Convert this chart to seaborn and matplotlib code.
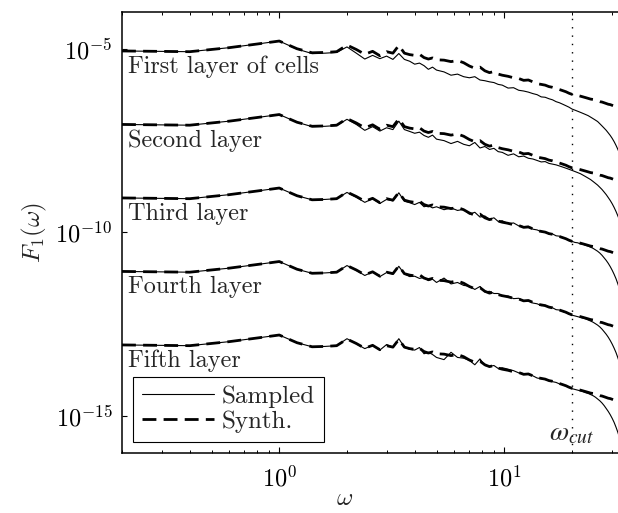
import numpy as np
import pandas as pd
import matplotlib
matplotlib.use("Agg")
import matplotlib.pyplot as plt
import seaborn as sns
from matplotlib.lines import Line2D
from matplotlib import ticker, transforms

# ---------------- data (log10 of F1, layer-1 scale) ----
omega = [0.2, 0.4, 0.6, 0.8, 1.0, 1.2, 1.4, 1.6, 1.8, 2.0,
         2.2, 2.4, 2.6, 2.8, 3.0, 3.2, 3.4, 3.6, 3.8, 4.0,
         4.2, 4.4, 4.6, 4.8, 5.0, 5.4, 5.8, 6.2, 6.6, 7.0,
         7.4, 7.8, 8.2, 8.6, 9.0, 9.4, 9.8, 10.4, 11.0, 11.6,
         12.2, 12.8, 13.4, 14.0, 14.6, 15.2, 15.8, 16.4, 17.0, 17.6,
         18.2, 18.8, 19.4, 20.0, 20.6, 21.2, 21.8, 22.4, 23.0, 23.6,
         24.2, 24.8, 25.4, 26.0, 26.6, 27.2, 27.8, 28.4, 29.0, 29.6,
         30.2, 30.8, 31.4, 32.0, 32.6, 33.2]

synth_log = [-5.06, -5.08, -4.97, -4.87, -4.79, -5.00, -5.11, -5.10, -5.08, -4.90,
             -5.02, -5.15, -5.07, -5.19, -5.08, -5.12, -4.91, -5.12, -5.16, -5.18,
             -5.15, -5.24, -5.28, -5.25, -5.30, -5.31, -5.35, -5.32, -5.38, -5.47,
             -5.53, -5.50, -5.60, -5.65, -5.62, -5.69, -5.72, -5.75, -5.79, -5.81,
             -5.86, -5.85, -5.90, -5.95, -5.97, -5.99, -6.03, -6.05, -6.08, -6.11,
             -6.14, -6.17, -6.21, -6.24, -6.25, -6.27, -6.29, -6.31, -6.33, -6.35,
             -6.37, -6.38, -6.40, -6.42, -6.44, -6.45, -6.47, -6.49, -6.51, -6.52,
             -6.54, -6.56, -6.57, -6.59, -6.60, -6.62]

sampled_layer1 = [-5.06, -5.08, -4.97, -4.87, -4.79, -5.01, -5.13, -5.12, -5.10, -4.95,
                  -5.12, -5.28, -5.18, -5.27, -5.20, -5.29, -5.13, -5.29, -5.34, -5.42,
                  -5.39, -5.46, -5.56, -5.50, -5.58, -5.63, -5.72, -5.69, -5.76, -5.79,
                  -5.76, -5.85, -5.87, -5.90, -5.92, -5.97, -5.99, -6.07, -6.06, -6.13,
                  -6.15, -6.18, -6.22, -6.25, -6.31, -6.32, -6.36, -6.39, -6.44, -6.47,
                  -6.51, -6.55, -6.59, -6.64, -6.67, -6.70, -6.73, -6.76, -6.79, -6.82,
                  -6.86, -6.90, -6.94, -6.98, -7.04, -7.10, -7.16, -7.22, -7.29, -7.36,
                  -7.44, -7.53, -7.63, -7.74, -7.86, -8.00]

sampled_layer2 = [-5.06, -5.08, -4.97, -4.87, -4.79, -5.00, -5.12, -5.11, -5.09, -4.92,
                  -5.06, -5.22, -5.12, -5.24, -5.15, -5.20, -4.97, -5.20, -5.25, -5.30,
                  -5.27, -5.36, -5.41, -5.35, -5.46, -5.50, -5.58, -5.52, -5.60, -5.64,
                  -5.55, -5.70, -5.66, -5.74, -5.71, -5.80, -5.82, -5.90, -5.86, -5.94,
                  -5.92, -5.98, -6.00, -6.04, -6.08, -6.07, -6.12, -6.14, -6.16, -6.19,
                  -6.22, -6.25, -6.28, -6.31, -6.34, -6.37, -6.40, -6.44, -6.48, -6.52,
                  -6.56, -6.61, -6.66, -6.71, -6.77, -6.83, -6.90, -6.97, -7.05, -7.13,
                  -7.22, -7.32, -7.43, -7.55, -7.68, -7.82]

sampled_layer3 = [-5.06, -5.08, -4.97, -4.87, -4.79, -5.00, -5.11, -5.10, -5.08, -4.91,
                  -5.04, -5.18, -5.08, -5.21, -5.10, -5.14, -4.92, -5.15, -5.19, -5.24,
                  -5.18, -5.30, -5.27, -5.33, -5.30, -5.38, -5.33, -5.40, -5.37, -5.50,
                  -5.45, -5.58, -5.55, -5.64, -5.60, -5.70, -5.68, -5.76, -5.74, -5.82,
                  -5.84, -5.83, -5.91, -5.93, -5.98, -5.98, -6.04, -6.04, -6.09, -6.10,
                  -6.15, -6.17, -6.22, -6.24, -6.27, -6.28, -6.31, -6.32, -6.35, -6.37,
                  -6.40, -6.43, -6.47, -6.51, -6.56, -6.62, -6.69, -6.76, -6.84, -6.93,
                  -7.03, -7.14, -7.26, -7.40, -7.55, -7.72]

sampled_layer4 = [-5.06, -5.08, -4.97, -4.87, -4.79, -5.00, -5.11, -5.10, -5.08, -4.90,
                  -5.03, -5.17, -5.07, -5.20, -5.09, -5.13, -4.92, -5.13, -5.20, -5.19,
                  -5.25, -5.22, -5.31, -5.27, -5.36, -5.24, -5.40, -5.36, -5.44, -5.46,
                  -5.55, -5.47, -5.62, -5.60, -5.66, -5.66, -5.74, -5.73, -5.80, -5.79,
                  -5.87, -5.86, -5.92, -5.94, -5.99, -5.98, -6.04, -6.05, -6.10, -6.11,
                  -6.15, -6.18, -6.22, -6.25, -6.27, -6.29, -6.31, -6.33, -6.35, -6.38,
                  -6.41, -6.44, -6.48, -6.52, -6.57, -6.63, -6.70, -6.77, -6.85, -6.94,
                  -7.04, -7.15, -7.27, -7.41, -7.56, -7.73]

sampled_layer5 = [-5.06, -5.08, -4.97, -4.87, -4.79, -5.00, -5.11, -5.10, -5.08, -4.89,
                  -5.03, -5.16, -5.07, -5.20, -5.05, -5.12, -4.89, -5.12, -5.18, -5.20,
                  -5.13, -5.30, -5.26, -5.32, -5.40, -5.46, -5.26, -5.40, -5.42, -5.48,
                  -5.60, -5.44, -5.62, -5.64, -5.62, -5.70, -5.68, -5.72, -5.76, -5.82,
                  -5.84, -5.86, -5.90, -5.96, -5.98, -6.00, -6.03, -6.06, -6.08, -6.12,
                  -6.14, -6.18, -6.21, -6.25, -6.27, -6.29, -6.31, -6.33, -6.36, -6.38,
                  -6.41, -6.44, -6.48, -6.53, -6.58, -6.64, -6.71, -6.79, -6.87, -6.96,
                  -7.06, -7.17, -7.30, -7.44, -7.60, -7.78]

layer_names = ["First layer of cells", "Second layer", "Third layer",
               "Fourth layer", "Fifth layer"]
layer_shift_decades = [0, -2, -4, -6, -8]
sampled_all = [sampled_layer1, sampled_layer2, sampled_layer3,
               sampled_layer4, sampled_layer5]
omega_cut = 20.0
legend_labels = ["Sampled", "Synth."]

# ---------------- style ----------------
sns.set_style("ticks")
plt.rcParams.update({
    "font.family": ["cmr10", "DejaVu Serif"],
    "mathtext.fontset": "cm",
    "axes.formatter.use_mathtext": True,
    "axes.unicode_minus": False,
    "font.size": 17.5,
    "axes.linewidth": 1.1,
    "xtick.direction": "in",
    "ytick.direction": "in",
    "xtick.top": True,
    "ytick.right": False,
    "xtick.major.size": 4,
    "xtick.minor.size": 2.2,
    "ytick.major.size": 3.5,
    "xtick.major.width": 0.8,
    "xtick.minor.width": 0.7,
    "ytick.major.width": 0.8,
    "xtick.major.pad": 9,
    "ytick.major.pad": 7,
    "xtick.color": "black",
    "ytick.color": "black",
    "axes.edgecolor": "black",
})

fig = plt.figure(figsize=(6.18, 5.13), dpi=100)
ax = fig.add_axes([0.1974, 0.117, 0.812, 0.8596])
ax.set_xscale("log")
ax.set_yscale("log")

dash = (0, (5, 2.6))
om = np.array(omega)
for k, name in enumerate(layer_names):
    shift = 10.0 ** layer_shift_decades[k]
    df = pd.DataFrame({
        "omega": om,
        "sampled": 10.0 ** np.array(sampled_all[k]) * shift,
        "synth": 10.0 ** np.array(synth_log) * shift,
    })
    sns.lineplot(data=df, x="omega", y="sampled", ax=ax, color="black",
                 lw=0.8, estimator=None, sort=False)
    sns.lineplot(data=df, x="omega", y="synth", ax=ax, color="black",
                 lw=2.0, linestyle=dash, estimator=None, sort=False)
    ax.text(0.213, 10.0 ** (-5.66 + layer_shift_decades[k]), name,
            ha="left", va="baseline", fontsize=17.5)

ax.axvline(omega_cut, color="black", lw=1.0, linestyle=(0, (1, 5)))
trans = transforms.blended_transform_factory(ax.transData, ax.transAxes)
wtxt = ax.text(15.8, 0.028, r"$\boldsymbol{\omega_{cut}}$", transform=trans,
               ha="left", va="baseline", fontsize=20, math_fontfamily="stix")

ax.set_xlim(0.2, 34)
ax.set_ylim(1e-16, 1e-4)
ax.yaxis.set_major_locator(ticker.FixedLocator([1e-15, 1e-10, 1e-5]))
ax.yaxis.set_minor_locator(ticker.NullLocator())
ax.xaxis.set_major_locator(ticker.LogLocator(base=10, numticks=10))
ax.xaxis.set_minor_locator(ticker.LogLocator(base=10, subs=np.arange(2, 10), numticks=20))
ax.xaxis.set_minor_formatter(ticker.NullFormatter())

ax.set_xlabel(r"$\omega$", fontsize=18)
ax.set_ylabel(r"$F_1(\omega)$", fontsize=18)
ax.xaxis.set_label_coords(0.444, -0.08)
ax.yaxis.set_label_coords(-0.145, 0.5)
ax.spines["right"].set_visible(False)

handles = [Line2D([], [], color="black", lw=0.8),
           Line2D([], [], color="black", lw=2.0, linestyle=dash)]
leg = ax.legend(handles, legend_labels, loc="lower left",
                bbox_to_anchor=(0.022, 0.025), borderaxespad=0,
                frameon=True, fancybox=False, framealpha=1,
                edgecolor="black", fontsize=18, handlelength=2.9,
                handletextpad=0.3, borderpad=0.35, labelspacing=0.1)
leg.get_frame().set_linewidth(0.8)

try:
    fig.savefig("out.png", dpi=100)
except Exception:
    wtxt.set_text(r"$\omega_{cut}$")
    wtxt.set_fontweight("bold")
    wtxt.set_math_fontfamily("dejavuserif")
    fig.savefig("out.png", dpi=100)
